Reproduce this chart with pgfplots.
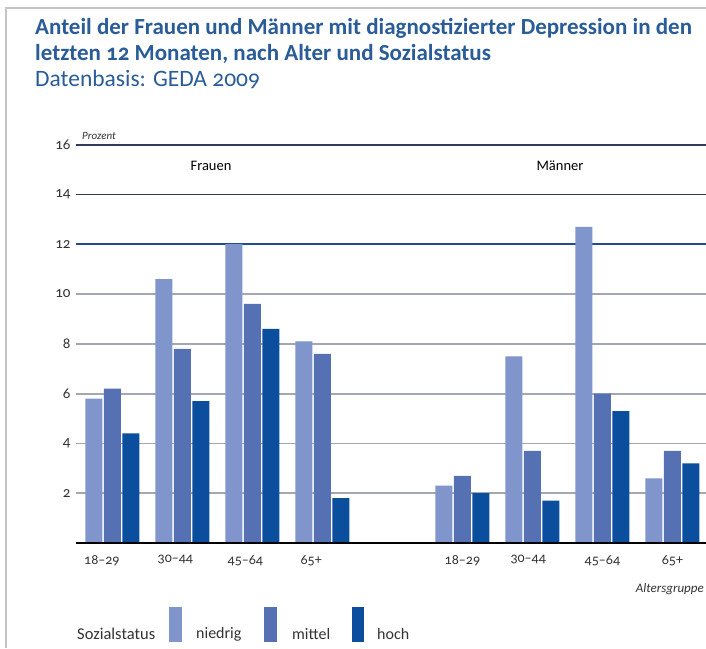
\documentclass[border=0pt]{standalone}
\usepackage{fontspec}
\setmainfont{Carlito}[Numbers=OldStyle]
\usepackage{pgfplots}
\pgfplotsset{compat=1.18}
\definecolor{cA}{HTML}{7F95CB}
\definecolor{cB}{HTML}{5570B3}
\definecolor{cC}{HTML}{0B4E9D}
\definecolor{titleblue}{HTML}{2A5C98}
\definecolor{gridgray}{HTML}{A3A7B2}
\definecolor{gridnavy}{HTML}{2F3D58}
\definecolor{gridblue}{HTML}{234C8C}
\definecolor{framegray}{HTML}{C4C4C4}
\definecolor{txt}{HTML}{333333}
\begin{document}
\begin{tikzpicture}
\path[use as bounding box] (0pt,0pt) rectangle (706pt,-648pt);
\clip (0pt,0pt) rectangle (706pt,-648pt);
\fill[white] (0pt,0pt) rectangle (706pt,-648pt);
\draw[framegray, line width=2pt] (6pt,-648pt) -- (6pt,-8pt) -- (706pt,-8pt);
\node[anchor=base west, inner sep=0pt, text=titleblue, font=\bfseries\fontsize{23}{26}\selectfont] at (35pt,-34pt) {Anteil der Frauen und Männer mit diagnostizierter Depression in den};
\node[anchor=base west, inner sep=0pt, text=titleblue, font=\bfseries\fontsize{23}{26}\selectfont] at (35pt,-60pt) {letzten 12 Monaten, nach Alter und Sozialstatus};
\node[anchor=base west, inner sep=0pt, text=titleblue, font=\fontsize{23.5}{26}\selectfont] at (35pt,-86pt) {Datenbasis: GEDA 2009};
\begin{axis}[
  at={(76pt,-543pt)}, anchor=south west,
  scale only axis, width=631.4pt, height=398.4pt,
  xmin=-0.52, xmax=8.5, ymin=0, ymax=16,
  ybar=1.5pt, bar width=17pt,
  axis line style={draw=none},
  xtick={-0.15,0.9,1.9,2.84,5,5.94,7,8},
  xticklabels={18--29,30--44,45--64,65+,18--29,30--44,45--64,65+},
  ytick={2,4,6,8,10,12},
  extra y ticks={14,16},
  extra y tick style={grid style={line width=1.8pt, color=gridnavy}},
  major tick length=0pt,
  ymajorgrids, grid style={line width=1.8pt, color=gridgray},
  /pgf/number format/assume math mode=true,
  tick label style={font=\fontsize{14}{16}\selectfont, text=txt},
  xticklabel style={yshift=-9pt},
  yticklabel style={xshift=-2pt, font=\fontsize{15}{17}\selectfont},
  clip=false,
]
\draw[gridblue, line width=1.8pt] (axis cs:-0.52,12) -- (axis cs:8.5,12);
\addplot[fill=cA, draw=none] coordinates {(0,5.8)(1,10.6)(2,12.0)(3,8.1)(5,2.3)(6,7.5)(7,12.7)(8,2.6)};
\addplot[fill=cB, draw=none] coordinates {(0,6.2)(1,7.8)(2,9.6)(3,7.6)(5,2.7)(6,3.7)(7,6.0)(8,3.7)};
\addplot[fill=cC, draw=none] coordinates {(0,4.4)(1,5.7)(2,8.6)(3,1.8)(5,2.0)(6,1.7)(7,5.3)(8,3.2)};
\draw[black, line width=2pt] (rel axis cs:0,0) -- (rel axis cs:1,0);
\end{axis}
\node[anchor=base west, inner sep=0pt, font=\itshape\fontsize{11}{13}\selectfont, text=txt] at (82pt,-139pt) {Prozent};
\node[inner sep=0pt, font=\fontsize{14.5}{16}\selectfont, text=black] at (211pt,-166pt) {Frauen};
\node[inner sep=0pt, font=\fontsize{14.5}{16}\selectfont, text=black] at (560pt,-166pt) {Männer};
\node[anchor=east, inner sep=0pt, font=\itshape\fontsize{13}{15}\selectfont, text=txt] at (704pt,-589pt) {Altersgruppe};
\node[anchor=west, inner sep=0pt, font=\fontsize{16.5}{18}\selectfont, text=txt] at (77pt,-634pt) {Sozialstatus};
\fill[cA] (169pt,-607pt) rectangle (182pt,-642pt);
\fill[cB] (264pt,-607pt) rectangle (277pt,-642pt);
\fill[cC] (352pt,-607pt) rectangle (364pt,-642pt);
\node[anchor=west, inner sep=0pt, font=\fontsize{16}{18}\selectfont, text=txt] at (196pt,-634pt) {niedrig};
\node[anchor=west, inner sep=0pt, font=\fontsize{16}{18}\selectfont, text=txt] at (292pt,-634pt) {mittel};
\node[anchor=west, inner sep=0pt, font=\fontsize{16}{18}\selectfont, text=txt] at (377pt,-634pt) {hoch};
\end{tikzpicture}
\end{document}
